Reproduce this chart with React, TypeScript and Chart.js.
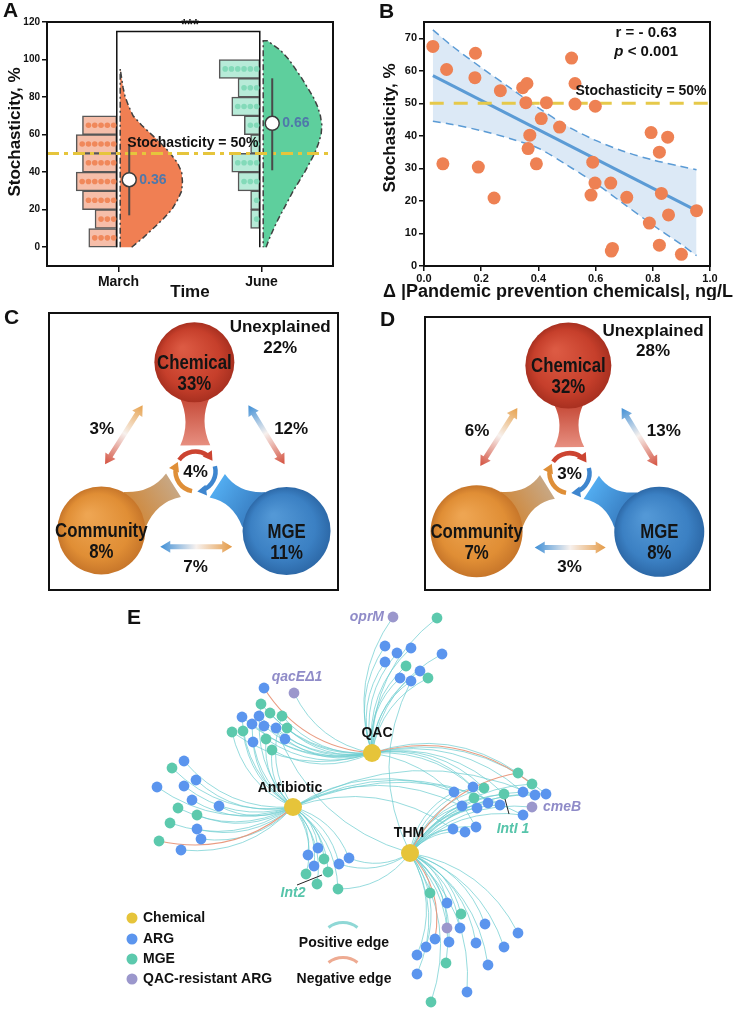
import React, { useEffect, useRef } from 'react';
import { Chart, registerables } from 'chart.js';

Chart.register(...registerables);

const SANS = "'Liberation Sans', Arial, Helvetica, sans-serif";
const INK = '#111111';

/* ================= Panel A data ================= */
const timeCategories = ['March', 'June'];
const binCenters = [5, 15, 25, 35, 45, 55, 65, 75, 85, 95];
const marchBinCounts = [4, 3, 5, 6, 5, 6, 5, 0, 0, 0];
const juneBinCounts = [0, 1, 1, 3, 4, 1, 2, 4, 3, 6];
const violinLevels = [0, 5, 10, 15, 20, 25, 30, 35, 40, 45, 50, 55, 60, 65, 70, 75, 80, 85, 90, 95, 100, 105, 110];
const marchViolinWidth = [0.08, 0.16, 0.23, 0.3, 0.36, 0.4, 0.43, 0.435, 0.43, 0.4, 0.35, 0.29, 0.22, 0.15, 0.09, 0.06, 0.035, 0.02, 0.01, 0];
const juneViolinWidth = [0.02, 0.045, 0.074, 0.105, 0.14, 0.175, 0.21, 0.25, 0.29, 0.325, 0.36, 0.385, 0.405, 0.41, 0.4, 0.38, 0.35, 0.31, 0.27, 0.225, 0.18, 0.12, 0.03];
const meanStochasticity = [36, 66];
const meanLow = [17, 41];
const meanHigh = [54, 90];
const stochasticityTicksA = [0, 20, 40, 60, 80, 100, 120];
const thresholdValue = 50;
const significanceMark = '***';
const bracketLevel = 115;

/* ================= Panel B data ================= */
const deltaChemicals = [0.031, 0.079, 0.066, 0.18, 0.178, 0.19, 0.267, 0.245, 0.345, 0.36, 0.356, 0.37, 0.364, 0.393, 0.41, 0.428, 0.474, 0.516, 0.528, 0.528, 0.599, 0.59, 0.598, 0.584, 0.653, 0.709, 0.655, 0.659, 0.794, 0.852, 0.823, 0.83, 0.855, 0.788, 0.823, 0.9, 0.953];
const stochasticityB = [67.5, 60.4, 31.4, 65.4, 57.9, 30.4, 53.9, 20.9, 54.8, 56.1, 50.2, 40.2, 36.1, 31.4, 45.3, 50.2, 42.7, 63.9, 56.1, 49.8, 49.1, 31.9, 25.5, 21.8, 25.5, 21.1, 4.6, 5.4, 41.0, 39.6, 35.0, 22.3, 15.7, 13.2, 6.4, 3.6, 17.0];
const fitX = [0.031, 0.953];
const fitY = [58.5, 17.0];
const bandX = [0.031, 0.1, 0.2, 0.3, 0.4, 0.5, 0.6, 0.7, 0.8, 0.9, 0.953];
const bandUpper = [72.6, 67.5, 61.0, 54.8, 48.6, 43.0, 38.6, 35.2, 32.6, 30.6, 29.6];
const bandLower = [44.5, 43.5, 41.6, 39.2, 36.2, 31.0, 25.4, 19.0, 12.6, 6.6, 3.2];
const stochasticityTicksB = [0, 10, 20, 30, 40, 50, 60, 70];
const correlationR = '- 0.63';
const correlationP = '< 0.001';

/* ================= Panels C / D data ================= */
const vpFactors = ['Chemical', 'Community', 'MGE'];
const vpUniqueC = [33, 8, 11];
const vpUniqueD = [32, 7, 8];
// shared: Chemical&Community, Chemical&MGE, Community&MGE, all three
const vpSharedC = [3, 12, 7, 4];
const vpSharedD = [6, 13, 3, 3];
const vpUnexplainedC = 22;
const vpUnexplainedD = 28;

/* ================= Panel E data ================= */
const hubNames = ['QAC', 'Antibiotic', 'THM'];
const hubX = [372, 293, 410];
const hubY = [753, 807, 853];
const nodeX = [393, 437, 385, 397, 411, 385, 442, 406, 420, 428, 400, 411,
  294, 264, 261, 242, 259, 270, 282, 232, 243, 252, 264, 276, 287, 253, 266, 285, 272,
  184, 172, 196, 157, 184, 192, 178, 219, 197, 170, 197, 201, 159, 181,
  318, 308, 324, 314, 339, 349, 328, 306, 317, 338,
  454, 473, 484, 474, 462, 477, 488, 500, 504, 518, 532, 523, 535, 546, 532, 523, 453, 465, 476,
  430, 447, 461, 447, 460, 485, 518, 435, 449, 426, 476, 504, 417, 446, 488, 417, 467, 431];
const nodeY = [617, 618, 646, 653, 648, 662, 654, 666, 671, 678, 678, 681,
  693, 688, 704, 717, 716, 713, 716, 732, 731, 724, 726, 728, 728, 742, 739, 739, 750,
  761, 768, 780, 787, 786, 800, 808, 806, 815, 823, 829, 839, 841, 850,
  848, 855, 859, 866, 864, 858, 872, 874, 884, 889,
  792, 787, 788, 798, 806, 808, 803, 805, 794, 773, 784, 792, 795, 794, 807, 815, 829, 832, 827,
  893, 903, 914, 928, 928, 924, 933, 939, 942, 947, 943, 947, 955, 963, 965, 974, 992, 1002];
// A = ARG, M = MGE, P = QAC-resistant ARG
const nodeKind = ['P', 'M', 'A', 'A', 'A', 'A', 'A', 'M', 'A', 'M', 'A', 'A',
  'P', 'A', 'M', 'A', 'A', 'M', 'M', 'M', 'M', 'A', 'A', 'A', 'M', 'A', 'M', 'A', 'M',
  'A', 'M', 'A', 'A', 'A', 'A', 'M', 'A', 'M', 'M', 'A', 'A', 'M', 'A',
  'A', 'A', 'M', 'A', 'A', 'A', 'M', 'M', 'M', 'M',
  'A', 'A', 'M', 'M', 'A', 'A', 'A', 'A', 'M', 'M', 'M', 'A', 'A', 'A', 'P', 'A', 'A', 'A', 'A',
  'M', 'A', 'M', 'P', 'A', 'A', 'A', 'A', 'A', 'A', 'A', 'A', 'A', 'M', 'A', 'A', 'A', 'M'];
// hubs linked: Q = QAC, A = Antibiotic, T = THM ; lower case = negative edge
const nodeLinks = ['Q', 'Q', 'Q', 'Q', 'Q', 'Q', 'Q', 'Q', 'Q', 'Q', 'Q', 'QT',
  'Q', 'q', 'QA', 'QA', 'Q', 'Q', 'QA', 'QA', 'A', 'QA', 'Q', 'QT', 'Q', 'A', 'QA', 'Q', 'QA',
  'A', 'A', 'A', 'A', 'A', 'A', 'A', 'A', 'A', 'A', 'A', 'A', 'a', 'A',
  'A', 'A', 'A', 'A', 'AT', 'AT', 'A', 'A', 'A', 'AT',
  'TA', 'TQ', 'TQ', 'T', 'TA', 'T', 'TQ', 'TA', 'TQ', 'tQ', 'Tq', 'TQ', 'TA', 'TQ', 'T', 'TA', 'TA', 'T', 'TQ',
  'T', 'T', 'T', 'T', 'T', 'T', 'T', 't', 'T', 'T', 'T', 'T', 'T', 'T', 'T', 'T', 'T', 'T'];
const geneLabels = ['oprM', 'qacEΔ1', 'cmeB', 'Int2', 'IntI 1'];
const geneLabelNodes = [0, 12, 67, 49, 61];
const legendKinds = ['Chemical', 'ARG', 'MGE', 'QAC-resistant ARG'];

/* ================= helpers ================= */
function text(ctx: any, s: string, x: number, y: number, font: string, color = INK, align = 'center', baseline = 'middle', rotation = 0, scaleX = 1) {
  ctx.save();
  ctx.font = font;
  ctx.fillStyle = color;
  ctx.textAlign = align;
  ctx.textBaseline = baseline;
  ctx.translate(x, y);
  if (rotation) ctx.rotate(rotation);
  if (scaleX !== 1) ctx.scale(scaleX, 1);
  ctx.fillText(s, 0, 0);
  ctx.restore();
}

function frame(chart: any, width = 2) {
  const { ctx, chartArea: a } = chart;
  ctx.save();
  ctx.strokeStyle = INK;
  ctx.lineWidth = width;
  ctx.strokeRect(a.left, a.top, a.right - a.left, a.bottom - a.top);
  ctx.restore();
}

const baseOptions = () => ({
  responsive: false,
  animation: false,
  events: [],
  plugins: { legend: { display: false }, tooltip: { enabled: false } },
});

const axisGrid = (len: number) => ({ display: true, drawOnChartArea: false, drawTicks: true, tickLength: len, color: INK, lineWidth: 1.5, offset: false });
const axisBorder = { display: true, color: INK, width: 2 };

function ChartCanvas(props: { left: number; top: number; width: number; height: number; build: () => any }) {
  const ref = useRef<HTMLCanvasElement | null>(null);
  useEffect(() => {
    let chart: any = null;
    try {
      chart = new Chart(ref.current as HTMLCanvasElement, props.build());
    } catch (e) {
      console.error(e);
    }
    return () => { if (chart) chart.destroy(); };
  }, []);
  return (
    <canvas
      ref={ref}
      width={props.width}
      height={props.height}
      style={{ position: 'absolute', left: props.left, top: props.top, width: props.width, height: props.height }}
    />
  );
}

/* ================= Panel A ================= */
function buildA() {
  const pos = timeCategories.map((_, i) => i + 1);
  const base = 0.012;
  const step = 0.044;
  const meanOff = 0.075;
  const hist = (counts: number[], c: number) =>
    counts.map((n, b) => ({ n, b })).filter((o) => o.n > 0)
      .map(({ n, b }) => ({ y: binCenters[b], x: [c - base - (n * step + 0.02), c - base] }));
  const dots = (counts: number[], c: number) => {
    const out: any[] = [];
    counts.forEach((n, b) => { for (let k = 0; k < n; k++) out.push({ x: c - base - 0.022 - k * step, y: binCenters[b] }); });
    return out;
  };
  const violin = (w: number[], c: number) => {
    const pts = w.map((v, i) => ({ x: c + base + v, y: violinLevels[i] }));
    pts.push({ x: c + base, y: violinLevels[w.length - 1] });
    pts.push({ x: c + base, y: 0 });
    return pts;
  };
  const line = (data: any[], color: string, width: number, dash: number[] = []) => ({
    type: 'line', data, borderColor: color, borderWidth: width, borderDash: dash, pointRadius: 0, fill: false, tension: 0,
  });
  const datasets: any[] = [
    { type: 'scatter', data: meanStochasticity.map((m, i) => ({ x: pos[i] + meanOff, y: m })), pointRadius: 7, pointBackgroundColor: '#ffffff', pointBorderColor: '#3c3c3c', pointBorderWidth: 1.5, clip: false },
    ...meanStochasticity.map((_, i) => line([{ x: pos[i] + meanOff, y: meanLow[i] }, { x: pos[i] + meanOff, y: meanHigh[i] }], '#4a4a4a', 2)),
    line([{ x: 0.5, y: thresholdValue }, { x: 2.5, y: thresholdValue }], '#e6c53c', 3, [12, 5, 4, 5]),
    { type: 'scatter', data: dots(marchBinCounts, pos[0]), pointRadius: 2.8, pointBackgroundColor: '#f0885b', pointBorderWidth: 0 },
    { type: 'scatter', data: dots(juneBinCounts, pos[1]), pointRadius: 2.8, pointBackgroundColor: '#83dab9', pointBorderWidth: 0 },
    line([{ x: pos[0] - base, y: 0 }, { x: pos[0] - base, y: bracketLevel }, { x: pos[1] - base, y: bracketLevel }, { x: pos[1] - base, y: 0 }], '#111', 1.5),
    { type: 'bar', indexAxis: 'y', data: hist(marchBinCounts, pos[0]), backgroundColor: '#f6bea9', borderColor: '#575757', borderWidth: 1.5, borderSkipped: false, grouped: false, barPercentage: 1, categoryPercentage: 1 },
    { type: 'bar', indexAxis: 'y', data: hist(juneBinCounts, pos[1]), backgroundColor: '#b7ebd8', borderColor: '#575757', borderWidth: 1.5, borderSkipped: false, grouped: false, barPercentage: 1, categoryPercentage: 1 },
    { type: 'line', data: violin(marchViolinWidth, pos[0]), fill: 'shape', backgroundColor: '#f07f53', borderColor: '#404040', borderWidth: 1.5, borderDash: [6, 3, 2, 3], pointRadius: 0, tension: 0 },
    { type: 'line', data: violin(juneViolinWidth, pos[1]), fill: 'shape', backgroundColor: '#5ecf9d', borderColor: '#404040', borderWidth: 1.5, borderDash: [6, 3, 2, 3], pointRadius: 0, tension: 0 },
  ];
  return {
    type: 'scatter',
    data: { datasets },
    options: {
      ...baseOptions(),
      layout: { autoPadding: false, padding: { left: 0, right: 34, top: 22, bottom: 0 } },
      scales: {
        x: {
          type: 'linear', min: 0.5, max: 2.5, offset: false,
          afterBuildTicks: (s: any) => { s.ticks = pos.map((v) => ({ value: v })); },
          afterFit: (s: any) => { s.height = 34; },
          ticks: { autoSkip: false, maxRotation: 0, padding: 2, color: INK, font: { family: SANS, size: 14, weight: 'bold' }, callback: (_v: any, i: number) => timeCategories[i] },
          grid: axisGrid(6), border: axisBorder,
        },
        y: {
          type: 'linear', min: -10, max: 120, offset: false,
          afterBuildTicks: (s: any) => { s.ticks = stochasticityTicksA.map((v) => ({ value: v })); },
          afterFit: (s: any) => { s.width = 47; },
          ticks: { padding: 2, color: INK, font: { family: SANS, size: 10, weight: 'bold' } },
          grid: axisGrid(5), border: axisBorder,
        },
      },
    },
    plugins: [{
      id: 'panelA',
      afterDraw(chart: any) {
        const { ctx } = chart;
        const sx = chart.scales.x, sy = chart.scales.y;
        frame(chart);
        text(ctx, 'A', 3, 11, `bold 21px ${SANS}`, INK, 'left');
        text(ctx, 'Stochasticity, %', 15, 132, `bold 17px ${SANS}`, INK, 'center', 'middle', -Math.PI / 2);
        text(ctx, 'Time', 190, 292, `bold 17px ${SANS}`);
        text(ctx, significanceMark, sx.getPixelForValue((pos[0] + pos[1]) / 2), sy.getPixelForValue(bracketLevel + 3.5), `bold 15px ${SANS}`);
        text(ctx, `Stochasticity = ${thresholdValue}%`, sx.getPixelForValue(1.52), sy.getPixelForValue(55.5), `bold 14px ${SANS}`);
        meanStochasticity.forEach((m, i) => {
          text(ctx, (m / 100).toFixed(2), sx.getPixelForValue(pos[i] + 0.145), sy.getPixelForValue(m), `bold 14px ${SANS}`, '#4f78aa', 'left');
        });
      },
    }],
  };
}

/* ================= Panel B ================= */
function buildB() {
  const pts = deltaChemicals.map((x, i) => ({ x, y: stochasticityB[i] }));
  const datasets: any[] = [
    { type: 'scatter', data: pts, pointRadius: 6.5, pointBackgroundColor: '#ee8153', pointBorderWidth: 0, clip: false },
    { type: 'line', data: [{ x: 0.02, y: thresholdValue }, { x: 1.0, y: thresholdValue }], borderColor: '#e6c94a', borderWidth: 3, borderDash: [14, 10], pointRadius: 0, fill: false },
    { type: 'line', data: fitX.map((x, i) => ({ x, y: fitY[i] })), borderColor: '#5b9bd5', borderWidth: 3, pointRadius: 0, fill: false },
    { type: 'line', data: bandX.map((x, i) => ({ x, y: bandUpper[i] })), borderColor: '#5b9bd5', borderWidth: 1.5, borderDash: [8, 5], pointRadius: 0, fill: '+1', backgroundColor: 'rgba(214,229,245,0.85)', tension: 0.3 },
    { type: 'line', data: bandX.map((x, i) => ({ x, y: bandLower[i] })), borderColor: '#5b9bd5', borderWidth: 1.5, borderDash: [8, 5], pointRadius: 0, fill: false, tension: 0.3 },
  ];
  return {
    type: 'scatter',
    data: { datasets },
    options: {
      ...baseOptions(),
      plugins: { legend: { display: false }, tooltip: { enabled: false }, filler: { drawTime: 'beforeDatasetsDraw' } },
      layout: { autoPadding: false, padding: { left: 0, right: 24, top: 22, bottom: 0 } },
      scales: {
        x: {
          type: 'linear', min: 0, max: 1, offset: false,
          afterFit: (s: any) => { s.height = 34; },
          ticks: { stepSize: 0.2, autoSkip: false, maxRotation: 0, padding: 1, color: INK, font: { family: SANS, size: 11, weight: 'bold' }, callback: (v: any) => Number(v).toFixed(1) },
          grid: axisGrid(5), border: axisBorder,
        },
        y: {
          type: 'linear', min: 0, max: 75, offset: false,
          afterBuildTicks: (s: any) => { s.ticks = stochasticityTicksB.map((v) => ({ value: v })); },
          afterFit: (s: any) => { s.width = 57; },
          ticks: { padding: 2, color: INK, font: { family: SANS, size: 11, weight: 'bold' } },
          grid: axisGrid(5), border: axisBorder,
        },
      },
    },
    plugins: [{
      id: 'panelB',
      afterDraw(chart: any) {
        const { ctx } = chart;
        const sx = chart.scales.x, sy = chart.scales.y;
        frame(chart);
        text(ctx, 'B', 12, 12, `bold 21px ${SANS}`, INK, 'left');
        text(ctx, 'Stochasticity, %', 23, 128, `bold 17px ${SANS}`, INK, 'center', 'middle', -Math.PI / 2);
        text(ctx, 'Δ |Pandemic prevention chemicals|, ng/L', 191, 292, `bold 18px ${SANS}`);
        text(ctx, `Stochasticity = ${thresholdValue}%`, sx.getPixelForValue(0.988), sy.getPixelForValue(53.8), `bold 14px ${SANS}`, INK, 'right');
        const cx = sx.getPixelForValue(0.777);
        text(ctx, `r = ${correlationR}`, cx, sy.getPixelForValue(71.6), `bold 15px ${SANS}`);
        ctx.save();
        ctx.font = `italic bold 15px ${SANS}`;
        const w1 = ctx.measureText('p').width;
        ctx.font = `bold 15px ${SANS}`;
        const w2 = ctx.measureText(` ${correlationP}`).width;
        ctx.restore();
        const x0 = cx - (w1 + w2) / 2, py = sy.getPixelForValue(65.9);
        text(ctx, 'p', x0, py, `italic bold 15px ${SANS}`, INK, 'left');
        text(ctx, ` ${correlationP}`, x0 + w1, py, `bold 15px ${SANS}`, INK, 'left');
      },
    }],
  };
}

/* ================= Panels C / D ================= */
const vennNodePos = [[50.3, 82.2], [18.1, 21.5], [82.2, 21.3]];
const vennRingPos = [50.7, 42.8];
const vennPairArrows = [[[32.4, 66.7], [19.4, 45.4]], [[69.0, 66.7], [81.5, 45.4]], [[38.5, 15.6], [63.4, 15.6]]];
const vennPairLabelPos = [[18.3, 58.0], [83.8, 58.0], [50.7, 8.3]];
const vennLight = ['#dc5a43', '#eea552', '#5398d6'];
const vennBase = ['#c63f2b', '#e08e35', '#3b80c3'];
const vennDark = ['#a83020', '#c7762a', '#2d69a8'];

function band(ctx: any, a: any, aOff: number, b: any, bOff: number, wA: number, wMid: number, wB: number, cA: string, cB: string) {
  const dx = b.x - a.x, dy = b.y - a.y, L = Math.hypot(dx, dy);
  const ux = dx / L, uy = dy / L, nx = -uy, ny = ux;
  const sx = a.x + ux * aOff, sy = a.y + uy * aOff, ex = b.x - ux * bOff, ey = b.y - uy * bOff;
  const mx = (sx + ex) / 2, my = (sy + ey) / 2;
  ctx.save();
  ctx.beginPath();
  ctx.moveTo(sx + nx * wA / 2, sy + ny * wA / 2);
  ctx.quadraticCurveTo(mx + nx * wMid / 2, my + ny * wMid / 2, ex + nx * wB / 2, ey + ny * wB / 2);
  ctx.lineTo(ex - nx * wB / 2, ey - ny * wB / 2);
  ctx.quadraticCurveTo(mx - nx * wMid / 2, my - ny * wMid / 2, sx - nx * wA / 2, sy - ny * wA / 2);
  ctx.closePath();
  const g = ctx.createLinearGradient(sx, sy, ex, ey);
  g.addColorStop(0, cA);
  g.addColorStop(1, cB);
  ctx.fillStyle = g;
  ctx.fill();
  ctx.restore();
}

function doubleArrow(ctx: any, a: any, b: any, stops: any[], shaft = 5, headLen = 10, headW = 12) {
  const dx = b.x - a.x, dy = b.y - a.y, L = Math.hypot(dx, dy);
  const ux = dx / L, uy = dy / L, nx = -uy, ny = ux;
  const p = (t: number, w: number) => [a.x + ux * t + nx * w, a.y + uy * t + ny * w];
  const pts = [p(0, 0), p(headLen, headW / 2), p(headLen, shaft / 2), p(L - headLen, shaft / 2), p(L - headLen, headW / 2), p(L, 0),
    p(L - headLen, -headW / 2), p(L - headLen, -shaft / 2), p(headLen, -shaft / 2), p(headLen, -headW / 2)];
  ctx.save();
  ctx.beginPath();
  pts.forEach(([x, y], i) => (i ? ctx.lineTo(x, y) : ctx.moveTo(x, y)));
  ctx.closePath();
  const g = ctx.createLinearGradient(a.x, a.y, b.x, b.y);
  stops.forEach(([o, c]) => g.addColorStop(o, c));
  ctx.fillStyle = g;
  ctx.fill();
  ctx.restore();
}

function arcArrow(ctx: any, c: any, r: number, a0d: number, a1d: number, color: string) {
  const a0 = (a0d * Math.PI) / 180, a1 = (a1d * Math.PI) / 180;
  ctx.save();
  ctx.strokeStyle = color;
  ctx.lineWidth = 4.5;
  ctx.beginPath();
  ctx.arc(c.x, c.y, r, a0, a1 - 0.22);
  ctx.stroke();
  const ex = c.x + r * Math.cos(a1), ey = c.y + r * Math.sin(a1);
  const tx = -Math.sin(a1), ty = Math.cos(a1);
  const nx = Math.cos(a1), ny = Math.sin(a1);
  const bx = ex - tx * 8, by = ey - ty * 8;
  ctx.fillStyle = color;
  ctx.beginPath();
  ctx.moveTo(ex + tx * 1, ey + ty * 1);
  ctx.lineTo(bx + nx * 5.5, by + ny * 5.5);
  ctx.lineTo(bx - nx * 5.5, by - ny * 5.5);
  ctx.closePath();
  ctx.fill();
  ctx.restore();
}

function buildVenn(unique: number[], shared: number[], unexplained: number, radii: number[], letter: string, letterXY: number[], pad: any) {
  return () => ({
    type: 'scatter',
    data: {
      datasets: [{
        data: vennNodePos.map((p) => ({ x: p[0], y: p[1] })),
        pointRadius: (c: any) => radii[c.dataIndex] || 0,
        pointBorderWidth: 0,
        clip: false,
        pointBackgroundColor: (c: any) => {
          const i = c.dataIndex;
          const fallback = vennBase[i] || vennBase[0];
          try {
            const ch = c.chart;
            if (c.type !== 'data' || !c.raw || !ch.scales || !ch.scales.x || !ch.scales.y) return fallback;
            const x = ch.scales.x.getPixelForValue(c.raw.x), y = ch.scales.y.getPixelForValue(c.raw.y), r = radii[i];
            if (![x, y, r].every((v) => Number.isFinite(v))) return fallback;
            const g = ch.ctx.createRadialGradient(x - r * 0.3, y - r * 0.35, r * 0.05, x, y, r);
            g.addColorStop(0, vennLight[i]);
            g.addColorStop(0.72, vennBase[i]);
            g.addColorStop(1, vennDark[i]);
            return g;
          } catch (e) {
            return fallback;
          }
        },
      }],
    },
    options: {
      ...baseOptions(),
      layout: { autoPadding: false, padding: pad },
      scales: {
        x: { type: 'linear', min: 0, max: 100, display: false },
        y: { type: 'linear', min: 0, max: 100, display: false },
      },
    },
    plugins: [{
      id: 'venn' + letter,
      beforeDatasetsDraw(chart: any) {
        const { ctx } = chart;
        const sx = chart.scales.x, sy = chart.scales.y;
        const P = (p: number[]) => ({ x: sx.getPixelForValue(p[0]), y: sy.getPixelForValue(p[1]) });
        const N = vennNodePos.map(P);
        const ring = P(vennRingPos);
        const ringR = 20;
        band(ctx, N[0], radii[0] - 5, ring, ringR + 6, 30, 8, 30, '#c54836', '#e78f80');
        band(ctx, N[1], radii[1] - 5, ring, ringR + 6, 42, 10, 28, '#cf8a3f', '#c8a783');
        band(ctx, N[2], radii[2] - 5, ring, ringR + 6, 42, 10, 28, '#3a80c4', '#52acf0');
        arcArrow(ctx, ring, ringR, 215, 325, '#cc4431');
        arcArrow(ctx, ring, ringR, 345, 442, '#3e86cf');
        arcArrow(ctx, ring, ringR, 100, 205, '#df8f38');
        const white = '#f7f1ee';
        const arrowStops = [
          [[0, '#e7a24e'], [0.48, white], [1, '#d4503e']],
          [[0, '#3f8fd6'], [0.48, white], [1, '#d4503e']],
          [[0, '#3f8fd6'], [0.5, white], [1, '#e49a46']],
        ];
        vennPairArrows.forEach((ab, i) => doubleArrow(ctx, P(ab[0]), P(ab[1]), arrowStops[i]));
      },
      afterDatasetsDraw(chart: any) {
        const { ctx } = chart;
        const sx = chart.scales.x, sy = chart.scales.y;
        const P = (p: number[]) => ({ x: sx.getPixelForValue(p[0]), y: sy.getPixelForValue(p[1]) });
        frame(chart);
        vennNodePos.forEach((p, i) => {
          const q = P(p);
          text(ctx, vpFactors[i], q.x, q.y + 1, `bold 20px ${SANS}`, '#141414', 'center', 'middle', 0, 0.84);
          text(ctx, `${unique[i]}%`, q.x, q.y + 22, `bold 20px ${SANS}`, '#141414', 'center', 'middle', 0, 0.84);
        });
        vennPairLabelPos.forEach((p, i) => {
          const q = P(p);
          text(ctx, `${shared[i]}%`, q.x, q.y, `bold 17px ${SANS}`);
        });
        const r = P(vennRingPos);
        text(ctx, `${shared[3]}%`, r.x, r.y + 1, `bold 17px ${SANS}`);
        const u = P([80, 94.7]);
        text(ctx, 'Unexplained', u.x, u.y, `bold 17px ${SANS}`);
        const u2 = P([80, 87.3]);
        text(ctx, `${unexplained}%`, u2.x, u2.y, `bold 17px ${SANS}`);
        text(ctx, letter, letterXY[0], letterXY[1], `bold 21px ${SANS}`, INK, 'left');
      },
    }],
  });
}

/* ================= Panel E ================= */
function buildE() {
  const kindColor: any = { A: '#5b95ee', M: '#5cc9ad', P: '#9b97cc' };
  const hubColor = '#e6c43a';
  const kindDs = (k: string) => ({
    type: 'scatter',
    data: nodeX.map((x, i) => ({ x, y: nodeY[i], k: nodeKind[i] })).filter((d) => d.k === k),
    pointRadius: 5.4, pointBackgroundColor: kindColor[k], pointBorderWidth: 0, clip: false,
  });
  const datasets: any[] = [
    { type: 'scatter', data: hubX.map((x, i) => ({ x, y: hubY[i] })), pointRadius: 9, pointBackgroundColor: hubColor, pointBorderWidth: 0, clip: false },
    kindDs('P'), kindDs('M'), kindDs('A'),
  ];
  const hubIndex: any = { Q: 0, A: 1, T: 2 };
  return {
    type: 'scatter',
    data: { datasets },
    options: {
      ...baseOptions(),
      layout: { autoPadding: false, padding: 0 },
      scales: {
        x: { type: 'linear', min: 0, max: 734, display: false },
        y: { type: 'linear', min: 600, max: 1009, reverse: true, display: false },
      },
    },
    plugins: [{
      id: 'network',
      beforeDatasetsDraw(chart: any) {
        const { ctx } = chart;
        const sx = chart.scales.x, sy = chart.scales.y;
        const edges: any[] = [];
        nodeLinks.forEach((links, i) => {
          for (const ch of links) {
            const h = hubIndex[ch.toUpperCase()];
            edges.push({ i, h, neg: ch !== ch.toUpperCase() });
          }
        });
        const drawEdge = (e: any) => {
          const hx = sx.getPixelForValue(hubX[e.h]), hy = sy.getPixelForValue(hubY[e.h]);
          const nx = sx.getPixelForValue(nodeX[e.i]), ny = sy.getPixelForValue(nodeY[e.i]);
          const dx = nx - hx, dy = ny - hy, k = 0.25;
          const cx = (hx + nx) / 2 + k * dy, cy = (hy + ny) / 2 - k * dx;
          ctx.beginPath();
          ctx.moveTo(hx, hy);
          ctx.quadraticCurveTo(cx, cy, nx, ny);
          ctx.stroke();
        };
        ctx.save();
        ctx.lineWidth = 0.9;
        ctx.strokeStyle = 'rgba(108,205,207,0.8)';
        edges.filter((e) => !e.neg).forEach(drawEdge);
        ctx.strokeStyle = 'rgba(232,150,122,0.95)';
        ctx.lineWidth = 1.1;
        edges.filter((e) => e.neg).forEach(drawEdge);
        ctx.restore();
      },
      afterDatasetsDraw(chart: any) {
        const { ctx } = chart;
        const sx = chart.scales.x, sy = chart.scales.y;
        const X = (v: number) => sx.getPixelForValue(v), Y = (v: number) => sy.getPixelForValue(v);
        text(ctx, 'E', X(127), Y(618), `bold 21px ${SANS}`, INK, 'left');
        const hubLabelDy = [-20, -19, -20];
        const hubLabelDx = [5, -3, -1];
        hubNames.forEach((n, i) => text(ctx, n, X(hubX[i] + hubLabelDx[i]), Y(hubY[i] + hubLabelDy[i]), `bold 14px ${SANS}`));
        const purple = '#8f8bc8', teal = '#56c4aa';
        const gf = `italic bold 14px ${SANS}`;
        const n = geneLabelNodes;
        text(ctx, geneLabels[0], X(nodeX[n[0]] - 9), Y(nodeY[n[0]]), gf, purple, 'right');
        text(ctx, geneLabels[1], X(nodeX[n[1]] + 3), Y(nodeY[n[1]] - 16), gf, purple, 'center');
        text(ctx, geneLabels[2], X(nodeX[n[2]] + 11), Y(nodeY[n[2]]), gf, purple, 'left');
        text(ctx, geneLabels[3], X(nodeX[n[3]] - 35), Y(nodeY[n[3]] + 21), gf, teal, 'center');
        text(ctx, geneLabels[4], X(nodeX[n[4]] + 9), Y(nodeY[n[4]] + 35), gf, teal, 'center');
        ctx.save();
        ctx.strokeStyle = '#222';
        ctx.lineWidth = 1;
        ctx.beginPath();
        ctx.moveTo(X(nodeX[n[3]] - 31), Y(nodeY[n[3]] + 13));
        ctx.lineTo(X(nodeX[n[3]] - 6), Y(nodeY[n[3]] + 3));
        ctx.moveTo(X(nodeX[n[4]] + 1), Y(nodeY[n[4]] + 5));
        ctx.lineTo(X(nodeX[n[4]] + 5), Y(nodeY[n[4]] + 20));
        ctx.stroke();
        ctx.restore();
        const legendColors = [hubColor, kindColor.A, kindColor.M, kindColor.P];
        const ly = [918, 939, 959, 979];
        legendKinds.forEach((s, i) => {
          ctx.save();
          ctx.fillStyle = legendColors[i];
          ctx.beginPath();
          ctx.arc(X(132), Y(ly[i]), 5.5, 0, Math.PI * 2);
          ctx.fill();
          ctx.restore();
          text(ctx, s, X(143), Y(ly[i]), `bold 14px ${SANS}`, INK, 'left');
        });
        const arcLegend = (cy: number, color: string) => {
          ctx.save();
          ctx.strokeStyle = color;
          ctx.lineWidth = 3;
          ctx.beginPath();
          ctx.arc(X(343), Y(cy), 23.5, (232 * Math.PI) / 180, (308 * Math.PI) / 180);
          ctx.stroke();
          ctx.restore();
        };
        arcLegend(946, '#8fd8d6');
        text(ctx, 'Positive edge', X(344), Y(943), `bold 14px ${SANS}`);
        arcLegend(981, '#eeab92');
        text(ctx, 'Negative edge', X(344), Y(979), `bold 14px ${SANS}`);
      },
    }],
  };
}

export default function App() {
  return (
    <div style={{ position: 'absolute', left: 0, top: 0, width: 734, height: 1009, background: '#ffffff', overflow: 'hidden' }}>
      <ChartCanvas left={0} top={0} width={367} height={300} build={buildA} />
      <ChartCanvas left={367} top={0} width={367} height={300} build={buildB} />
      <ChartCanvas left={0} top={300} width={367} height={300}
        build={buildVenn(vpUniqueC, vpSharedC, vpUnexplainedC, [40, 44, 44], 'C', [4, 18], { left: 49, top: 13, right: 29, bottom: 10 })} />
      <ChartCanvas left={367} top={300} width={367} height={300}
        build={buildVenn(vpUniqueD, vpSharedD, vpUnexplainedD, [43, 46, 45], 'D', [13, 20], { left: 58, top: 17, right: 24, bottom: 10 })} />
      <ChartCanvas left={0} top={600} width={734} height={409} build={buildE} />
    </div>
  );
}
